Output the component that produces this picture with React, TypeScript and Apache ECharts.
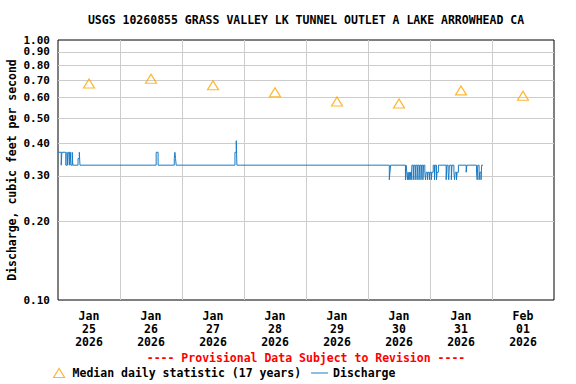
import React, { useEffect, useRef } from 'react';
import * as echarts from 'echarts';

const TITLE = 'USGS 10260855 GRASS VALLEY LK TUNNEL OUTLET A LAKE ARROWHEAD CA';
const Y_NAME = 'Discharge, cubic feet per second';
const PROVISIONAL = '---- Provisional Data Subject to Revision ----';
const MEDIAN_NAME = 'Median daily statistic (17 years)';
const DISCHARGE_NAME = 'Discharge';

// hours from Jan 25 2026 00:00
const DAY_LABEL_HOURS = [12, 36, 60, 84, 108, 132, 156, 180];
const DAY_LABELS = [
  'Jan\n25\n2026', 'Jan\n26\n2026', 'Jan\n27\n2026', 'Jan\n28\n2026',
  'Jan\n29\n2026', 'Jan\n30\n2026', 'Jan\n31\n2026', 'Feb\n01\n2026',
];
const DAY_GRID_HOURS = [24, 48, 72, 96, 120, 144, 168];
const Y_LABEL_VALUES = [0.1, 0.2, 0.3, 0.4, 0.5, 0.6, 0.7, 0.8, 0.9, 1.0];
const Y_GRID_VALUES = [0.2, 0.3, 0.4, 0.5, 0.6, 0.7, 0.8, 0.9];

const MEDIAN_HOURS = [12, 36, 60, 84, 108, 132, 156, 180];
const MEDIAN_VALUES = [0.68, 0.71, 0.67, 0.63, 0.58, 0.57, 0.64, 0.61];

const DISCHARGE_HOURS = [
  0, 1.25, 1.5, 3.0, 3.5, 3.75, 4.0, 4.5, 4.75, 5.0, 5.5, 5.75, 7.75, 8.25, 8.5,
  38.0, 38.75, 45.0, 45.25, 45.5, 45.75,
  68.5, 69.0, 69.25,
  128.25, 128.5, 128.75,
  134.5, 134.75,
  135.0, 135.25, 135.5, 135.75, 136.0, 136.25, 136.5, 136.75, 137.0,
  137.5, 137.75, 138.25, 138.5, 139.0, 139.25, 139.75, 140.0, 140.5, 140.75, 141.25, 141.5,
  142.0, 142.25, 142.5, 143.0, 143.25, 143.75, 144.0, 144.5, 144.75, 145.25,
  145.75, 146.0, 146.5, 146.75, 147.25,
  150.25, 150.5, 151.0, 151.25, 151.5, 152.25, 152.5, 153.25, 153.5, 153.75, 154.25, 154.5, 155.0,
  158.0, 158.25,
  162.0, 162.25, 162.5, 163.0, 163.25, 163.75, 164.0, 164.5,
];
const DISCHARGE_VALUES = [
  0.37, 0.33, 0.37, 0.33, 0.37, 0.33, 0.37, 0.33, 0.37, 0.33, 0.37, 0.33, 0.35, 0.37, 0.33,
  0.37, 0.33, 0.35, 0.37, 0.35, 0.33,
  0.37, 0.41, 0.33,
  0.29, 0.31, 0.33,
  0.29, 0.33,
  0.31, 0.29, 0.31, 0.29, 0.31, 0.29, 0.31, 0.29, 0.33,
  0.29, 0.33, 0.29, 0.33, 0.29, 0.33, 0.29, 0.33, 0.29, 0.33, 0.29, 0.33,
  0.31, 0.29, 0.31, 0.29, 0.31, 0.29, 0.31, 0.29, 0.31, 0.33,
  0.29, 0.33, 0.29, 0.31, 0.33,
  0.29, 0.33, 0.31, 0.29, 0.33, 0.29, 0.33, 0.31, 0.29, 0.31, 0.29, 0.31, 0.33,
  0.31, 0.33,
  0.31, 0.29, 0.33, 0.29, 0.31, 0.29, 0.33, 0.33,
];

const FONT = 'DejaVu Sans Mono';
const BLUE = '#1a7cc6';
const ORANGE = '#ffa500';

export default function App() {
  const ref = useRef<HTMLDivElement>(null);
  useEffect(() => {
    if (!ref.current) return;
    const chart = echarts.init(ref.current, null, { renderer: 'svg' });
    const txt = { fontFamily: FONT, fontWeight: 'bold' as const, fontSize: 11.5, color: '#000' };
    chart.setOption({
      animation: false,
      backgroundColor: '#fff',
      grid: {
        left: 58, right: 22, top: 40, bottom: 84,
        outerBoundsMode: 'none', containLabel: false,
        show: true, borderColor: '#000', borderWidth: 1, backgroundColor: 'transparent',
      },
      graphic: [
        { type: 'text', x: 306, y: 20, style: { text: TITLE, align: 'center', verticalAlign: 'middle', font: `bold 11.5px "${FONT}"`, fill: '#000' } },
        { type: 'text', x: 306, y: 358, style: { text: PROVISIONAL, align: 'center', verticalAlign: 'middle', font: `bold 11.5px "${FONT}"`, fill: '#ff0000' } },
      ],
      legend: {
        left: 53, top: 367, padding: 0, itemGap: 10, itemWidth: 17, itemHeight: 9,
        symbolKeepAspect: true,
        textStyle: { ...txt },
        data: [
          { name: MEDIAN_NAME, icon: 'path://M5.5,0L11,9H0Z', itemStyle: { color: 'transparent', borderColor: ORANGE, borderWidth: 1.2 } },
          { name: DISCHARGE_NAME, icon: 'path://M0,0H17V1H0Z', itemStyle: { color: BLUE, borderWidth: 0 } },
        ],
      },
      xAxis: {
        type: 'value', min: 0, max: 192,
        axisLine: { show: false },
        axisTick: { show: false, customValues: DAY_GRID_HOURS },
        splitLine: { show: true, lineStyle: { color: '#cccccc', width: 1 } },
        axisLabel: {
          customValues: DAY_LABEL_HOURS, margin: 9, lineHeight: 13, ...txt,
          formatter: (v: number) => DAY_LABELS[DAY_LABEL_HOURS.indexOf(v)] ?? '',
        },
      },
      yAxis: {
        type: 'log', logBase: 10, min: 0.1, max: 1,
        name: Y_NAME, nameLocation: 'middle', nameGap: 40, nameMoveOverlap: false,
        nameTextStyle: { ...txt },
        axisLine: { show: false },
        axisTick: { show: false, customValues: Y_GRID_VALUES },
        splitLine: { show: true, lineStyle: { color: '#cccccc', width: 1 } },
        axisLabel: {
          customValues: Y_LABEL_VALUES, margin: 8, ...txt, fontSize: 11, lineHeight: 9,
          formatter: (v: number) => v.toFixed(2),
        },
      },
      series: [
        {
          name: MEDIAN_NAME, type: 'scatter', symbol: 'triangle', symbolSize: [11, 9],
          itemStyle: { color: 'transparent', borderColor: ORANGE, borderWidth: 1.2 },
          data: MEDIAN_HOURS.map((h, i) => [h, MEDIAN_VALUES[i]]),
          z: 3,
        },
        {
          name: DISCHARGE_NAME, type: 'line', step: 'end', symbol: 'none', showSymbol: false,
          lineStyle: { color: BLUE, width: 1 }, itemStyle: { color: BLUE },
          data: DISCHARGE_HOURS.map((h, i) => [h, DISCHARGE_VALUES[i]]),
          z: 2,
        },
      ],
    });
    return () => chart.dispose();
  }, []);
  return <div ref={ref} style={{ width: 576, height: 384, position: 'absolute', left: 0, top: 0 }} />;
}
